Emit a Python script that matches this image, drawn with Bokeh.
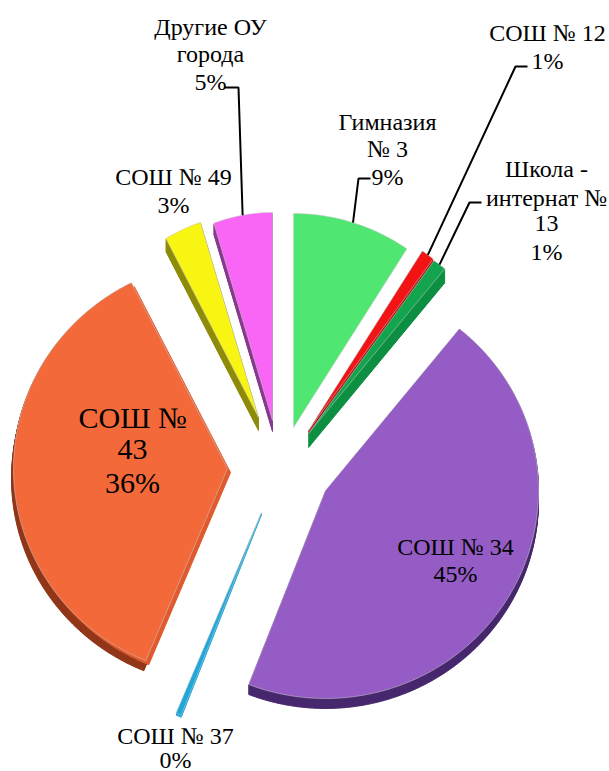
import math
from bokeh.plotting import figure
from bokeh.core.properties import value
from bokeh.embed import file_html
from bokeh.resources import INLINE

# --- data (clockwise from 12 o'clock) ---
names = ["Гимназия № 3", "СОШ № 12", "Школа - интернат № 13", "СОШ № 34",
         "СОШ № 37", "СОШ № 43", "СОШ № 49", "Другие ОУ города"]
shares = [9, 1, 1, 45, 0.4, 36, 3, 4.6]
percent_labels = ["9%", "1%", "1%", "45%", "0%", "36%", "3%", "5%"]
top_colors = ["#4FE672", "#F21414", "#12A54E", "#945CC4", "#1FA7DA", "#F4693A", "#F8F513", "#F966F5"]
side_colors = ["#3CC05A", "#B01010", "#0D8F42", "#47286E", "#1FA7DA", "#92381A", "#8F8C0A", "#8A3A90"]

# --- layout: each exploded slice's tip, radii and extrusion, in page pixels ---
tips = [(293, 427), (308, 430), (308, 433), (325, 490), (261, 512), (227, 468), (258, 417), (272, 420)]
radii = [(206, 214), (207, 215), (215, 213), (213, 208), (218, 218), (214, 208), (190, 205), (185, 208)]
extrude = [(0, 0), (0, 3), (0, 14), (0, 10), (0, 2), (-2, 10), (0, 13), (0, 11)]
# slice index -> offset and colour of the lighter radial face under the top
inner_face = {5: ((3, 4), "#DF5A2C")}

label_lines = [
    (["Гимназия", "№ 3", "9%"], 387, [121, 148, 176], 24),
    (["СОШ № 12", "1%"], 547, [32, 60], 24),
    (["Школа -", "интернат №", "13", "1%"], 546, [168, 197, 223, 251], 24),
    (["СОШ № 34", "45%"], 455, [546, 573], 24),
    (["СОШ № 37", "0%"], 175, [735, 759], 24),
    (["СОШ №", "43", "36%"], 132, [417, 449, 482], 30),
    (["СОШ № 49", "3%"], 173, [176, 204], 24),
    (["Другие ОУ", "города", "5%"], 210, [26, 53, 81], 24),
]
# slice index -> (label end, elbow) of its leader line
leaders = {
    0: [(370, 178), (358, 178)],
    1: [(527, 66), (515, 66)],
    2: [(481, 202), (469, 202)],
    7: [(224, 87), (238, 87)],
}

W, H = 609, 771
p = figure(width=W, height=H, x_range=(0, W), y_range=(H, 0),
           output_backend="svg", toolbar_location=None, min_border=0)
p.axis.visible = False
p.grid.visible = False
p.outline_line_color = None


def rim(i, deg):
    cx, cy = tips[i]
    rx, ry = radii[i]
    t = math.radians(deg)
    s, c = math.sin(t), math.cos(t)
    r = 1 / math.hypot(s / rx, c / ry)
    return cx + r * s, cy - r * c


total = sum(shares)
edges = [0]
for v in shares:
    edges.append(edges[-1] + v / total * 360)

for i in range(len(shares)):
    a0, a1 = edges[i], edges[i + 1]
    n = max(6, int((a1 - a0) * 1.5))
    pts = [tips[i]] + [rim(i, a0 + (a1 - a0) * k / n) for k in range(n + 1)]
    xs = [q[0] for q in pts]
    ys = [q[1] for q in pts]
    dx, dy = extrude[i]
    steps = max(abs(dx), abs(dy))
    for k in range(steps, 0, -1):
        p.patch([x + dx * k / steps for x in xs], [y + dy * k / steps for y in ys],
                color=side_colors[i], line_width=1)
    if i in inner_face:
        (ox, oy), col = inner_face[i]
        p.patch([x + ox for x in xs], [y + oy for y in ys], color=col, line_width=1)
    p.patch(xs, ys, fill_color=top_colors[i], line_color="#C8C8C8", line_alpha=0.55, line_width=1)

for i, (end, elbow) in leaders.items():
    tail = rim(i, (edges[i] + edges[i + 1]) / 2)
    p.line([end[0], elbow[0], tail[0]], [end[1], elbow[1], tail[1]], line_color="black", line_width=2)

for lines, x, ys, size in label_lines:
    p.text([x] * len(lines), ys, text=lines, text_align="center", text_baseline="middle",
           text_font=value("Liberation Serif"), text_font_size=f"{size}px", text_color="black")

open("out.html", "w").write(file_html(p, INLINE))
